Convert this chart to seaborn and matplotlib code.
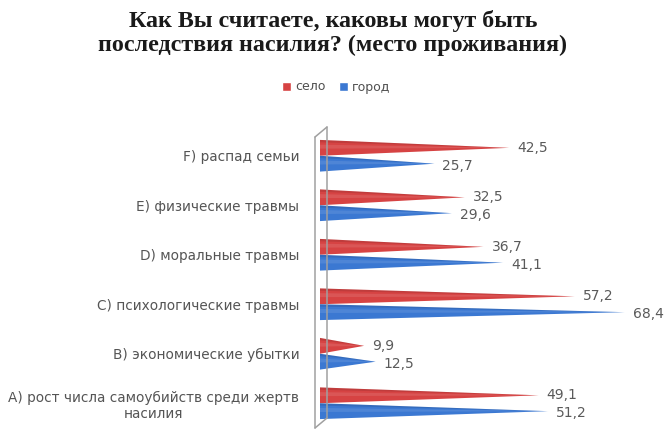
import pandas as pd
import seaborn as sns
import matplotlib.pyplot as plt
from matplotlib.patches import Polygon
from matplotlib.lines import Line2D

categories = ['F) распад семьи', 'E) физические травмы', 'D) моральные травмы',
              'C) психологические травмы', 'B) экономические убытки',
              'A) рост числа самоубийств среди жертв\nнасилия']
selo = [42.5, 32.5, 36.7, 57.2, 9.9, 49.1]
gorod = [25.7, 29.6, 41.1, 68.4, 12.5, 51.2]
series = ['село', 'город']
colors = {'село': '#d64343', 'город': '#3b78d2'}

df = pd.DataFrame({
    'cat': categories * 2,
    'val': selo + gorod,
    'series': ['село'] * len(categories) + ['город'] * len(categories),
})

sns.set_style('white')
plt.rcParams['font.family'] = ['DejaVu Sans']

W, H = 666, 433
fig = plt.figure(figsize=(W / 100, H / 100), dpi=100)
ax = fig.add_axes([320 / W, 1 - 428 / H, 334 / W, 297 / H])

sns.barplot(data=df, y='cat', x='val', hue='series', hue_order=series,
            order=categories, orient='h', palette=colors, width=0.64,
            saturation=1, ax=ax, legend=True)

# flat bars -> cones
for bar in list(ax.patches):
    w = bar.get_width()
    if w == 0 or bar.get_height() == 0:
        continue
    x0, y0, h = bar.get_x(), bar.get_y(), bar.get_height()
    fc = bar.get_facecolor()
    ax.add_patch(Polygon([(x0, y0), (x0 + w, y0 + h / 2), (x0, y0 + h)],
                         closed=True, facecolor=fc, edgecolor='none', zorder=3))
    # darker top edge (y axis inverted: y0 is the top)
    ax.add_patch(Polygon([(x0, y0), (x0 + w, y0 + h / 2), (x0, y0 + h * 0.15)],
                         closed=True, facecolor='black', alpha=0.1,
                         edgecolor='none', zorder=4))
    ax.add_patch(Polygon([(x0, y0 + h * 0.3), (x0 + w, y0 + h / 2), (x0, y0 + h * 0.55)],
                         closed=True, facecolor='white', alpha=0.1,
                         edgecolor='none', zorder=4))
    bar.set_visible(False)

# value labels
for cont, dy in zip(ax.containers, [0.0, 0.04]):
    for bar in cont:
        v = bar.get_width()
        yc = bar.get_y() + bar.get_height() / 2 + dy
        ax.text(v + 1.8, yc, f'{v:.1f}'.replace('.', ','), va='center',
                ha='left', fontsize=10, color='#5a5a5a', zorder=5)

ax.set_xlim(0, 75)
ax.set_ylim(5.5, -0.5)
ax.set_xlabel('')
ax.set_ylabel('')
ax.set_xticks([])
ax.tick_params(axis='y', length=0, pad=15, labelsize=9.8, labelcolor='#555555')
for lab in ax.get_yticklabels():
    lab.set_multialignment('center')
for s in ax.spines.values():
    s.set_visible(False)


# 3d wall on the left (pixel coordinates of the figure)
def px(x, y):
    return x / W, 1 - y / H


wall = [((315, 428), (315, 137)), ((315, 137), (327, 127)), ((327, 127), (327, 418)),
        ((315, 428), (327, 418))]
for (a, b) in wall:
    (x1, y1), (x2, y2) = px(*a), px(*b)
    fig.add_artist(Line2D([x1, x2], [y1, y2], transform=fig.transFigure,
                          color='#a0a0a0', lw=1.1, zorder=1))

handles, labels = ax.get_legend_handles_labels()
ax.legend_.remove()
fig.legend(handles, labels, loc='center', bbox_to_anchor=(0.505, 1 - 87 / H), ncol=2,
           frameon=False, fontsize=9, handlelength=0.75, handleheight=0.75,
           handletextpad=0.35, columnspacing=1.0, labelcolor='#505050')

fig.text(0.5, 1 - 33 / H, 'Как Вы считаете, каковы могут быть\nпоследствия насилия? (место проживания)',
         ha='center', va='center', fontsize=17.3, fontweight='bold',
         family=['Liberation Serif', 'DejaVu Serif'], color='#1a1a1a',
         linespacing=1.17)

fig.savefig('out.png', dpi=100)
